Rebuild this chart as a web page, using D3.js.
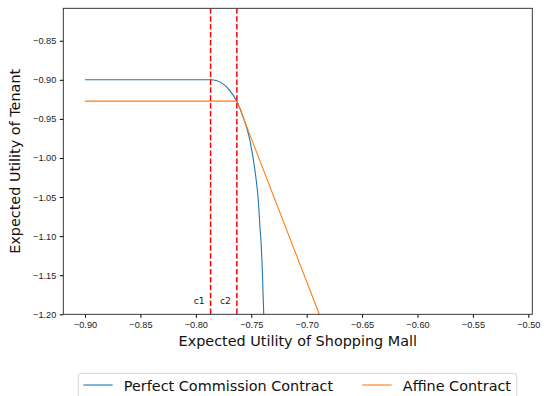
<!DOCTYPE html>
<html>
<head>
<meta charset="utf-8">
<script src="https://cdn.jsdelivr.net/npm/d3@7"></script>
<style>
  body { margin: 0; background: #fff; }
  svg { display: block; font-family: "DejaVu Sans", sans-serif; }
</style>
</head>
<body>
<svg id="chart"></svg>
<script>
var width = 544, height = 396;
var margin = {top: 8.3, right: 544 - 532.3, bottom: 396 - 314.3, left: 63.3};

// perfect commission contract (blue)
var pc_x = [-0.900, -0.7867, -0.7809, -0.7752, -0.7691, -0.7631, -0.7571, -0.7511,
            -0.7466, -0.7436, -0.7421, -0.7412, -0.7400, -0.7387];
var pc_y = [-0.900, -0.900, -0.9013, -0.9055, -0.9141, -0.9273, -0.9483, -0.9782,
            -1.0167, -1.0551, -1.0894, -1.1064, -1.1449, -1.2013];

// affine contract (orange)
var af_x = [-0.900, -0.763, -0.6886, -0.680];
var af_y = [-0.9273, -0.9273, -1.200, -1.2319];

// thresholds
var cut_names = ["c1", "c2"];
var cut_x = [-0.7867, -0.763];

var x_ticks = [-0.90, -0.85, -0.80, -0.75, -0.70, -0.65, -0.60, -0.55, -0.50];
var y_ticks = [-0.85, -0.90, -0.95, -1.00, -1.05, -1.10, -1.15, -1.20];

var series_names = ["Perfect Commission Contract", "Affine Contract"];
var series_colors = ["#1f77b4", "#ff7f0e"];

var svg = d3.select("#chart")
    .attr("width", width)
    .attr("height", height);

var xscale = d3.scaleLinear()
    .domain([-0.9196, -0.4964])
    .range([margin.left, width - margin.right]);

var yscale = d3.scaleLinear()
    .domain([-1.20, -0.8085])
    .range([height - margin.bottom, margin.top]);

svg.append("defs").append("clipPath")
    .attr("id", "plotclip")
    .append("rect")
    .attr("x", margin.left).attr("y", margin.top)
    .attr("width", width - margin.left - margin.right)
    .attr("height", height - margin.top - margin.bottom);

var fmt = d3.format(".2f");

// x axis
var gx = svg.append("g")
    .attr("transform", `translate(0, ${height - margin.bottom})`)
    .call(d3.axisBottom(xscale).tickValues(x_ticks).tickFormat(fmt).tickSizeOuter(0).tickSize(3.5).tickPadding(3.5));
gx.selectAll("text").style("font-size", "9.2px").attr("fill", "#222");
gx.select(".domain").remove();

// y axis
var gy = svg.append("g")
    .attr("transform", `translate(${margin.left}, 0)`)
    .call(d3.axisLeft(yscale).tickValues(y_ticks).tickFormat(fmt).tickSizeOuter(0).tickSize(3.5).tickPadding(3.5));
gy.selectAll("text").style("font-size", "9.2px").attr("fill", "#222");
gy.select(".domain").remove();

var plot = svg.append("g").attr("clip-path", "url(#plotclip)");

var line = d3.line()
    .x(d => xscale(d[0]))
    .y(d => yscale(d[1]))
    .curve(d3.curveMonotoneX);

plot.append("path")
    .datum(pc_x.map((v, i) => [v, pc_y[i]]))
    .attr("d", line)
    .attr("fill", "none")
    .attr("stroke", series_colors[0])
    .attr("stroke-width", 1.1);

plot.append("path")
    .datum(af_x.map((v, i) => [v, af_y[i]]))
    .attr("d", line.curve(d3.curveLinear))
    .attr("fill", "none")
    .attr("stroke", series_colors[1])
    .attr("stroke-width", 1.1);

// dashed cut lines
cut_x.forEach(function(c, i) {
    plot.append("line")
        .attr("x1", xscale(c)).attr("x2", xscale(c))
        .attr("y1", margin.top).attr("y2", height - margin.bottom)
        .attr("stroke", "red")
        .attr("stroke-width", 1.5)
        .attr("stroke-dasharray", "5.5,2.4");
    svg.append("text")
        .attr("x", xscale(c) - 6)
        .attr("y", 304)
        .attr("text-anchor", "end")
        .style("font-size", "9.2px")
        .attr("fill", "#222")
        .text(cut_names[i]);
});

// frame
svg.append("rect")
    .attr("x", margin.left).attr("y", margin.top)
    .attr("width", width - margin.left - margin.right)
    .attr("height", height - margin.top - margin.bottom)
    .attr("fill", "none")
    .attr("stroke", "#222")
    .attr("stroke-width", 0.9);

// axis labels
svg.append("text")
    .attr("x", (margin.left + width - margin.right) / 2)
    .attr("y", 346)
    .attr("text-anchor", "middle")
    .style("font-size", "14.4px")
    .attr("fill", "#111")
    .text("Expected Utility of Shopping Mall");

svg.append("text")
    .attr("transform", `translate(20, ${(margin.top + height - margin.bottom) / 2}) rotate(-90)`)
    .attr("text-anchor", "middle")
    .style("font-size", "14.4px")
    .attr("fill", "#111")
    .text("Expected Utility of Tenant");

// legend
var lg = svg.append("g");
lg.append("rect")
    .attr("x", 78.3).attr("y", 373.3)
    .attr("width", 438.4).attr("height", 40)
    .attr("rx", 3)
    .attr("fill", "white")
    .attr("stroke", "#d5d5d5")
    .attr("stroke-width", 1);

var leg_x = [83.3, 362.3];
series_names.forEach(function(n, i) {
    lg.append("line")
        .attr("x1", leg_x[i]).attr("x2", leg_x[i] + 29.4)
        .attr("y1", 385).attr("y2", 385)
        .attr("stroke", series_colors[i])
        .attr("stroke-width", 1.1);
    lg.append("text")
        .attr("x", leg_x[i] + 40.5)
        .attr("y", 390.7)
        .style("font-size", "14.4px")
        .attr("fill", "#111")
        .text(n);
});
</script>
</body>
</html>
